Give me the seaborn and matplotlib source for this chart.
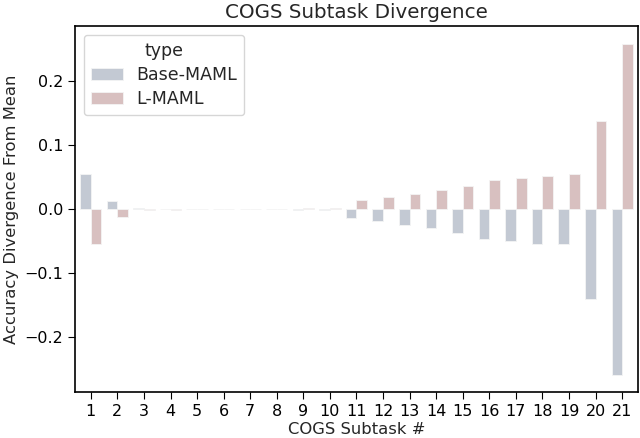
import pandas as pd
import numpy as np
import matplotlib
matplotlib.use('Agg')
import matplotlib.pyplot as plt
import seaborn as sns

subtasks = [str(i) for i in range(1, 22)]
lmaml = [-0.054, -0.013, -0.002, -0.001, 0.0, 0.0, 0.0, 0.0, 0.002, 0.002,
         0.014, 0.019, 0.024, 0.030, 0.036, 0.046, 0.049, 0.052, 0.054, 0.138, 0.258]
base = [0.054, 0.012, 0.002, 0.0005, 0.0, 0.0, 0.0, 0.0, -0.002, -0.002,
        -0.014, -0.019, -0.024, -0.030, -0.037, -0.047, -0.050, -0.054, -0.055, -0.140, -0.259]

df = pd.DataFrame({
    'subtask': subtasks * 2,
    'divergence': base + lmaml,
    'type': ['Base-MAML'] * len(subtasks) + ['L-MAML'] * len(subtasks),
})

sns.set_style('ticks')
plt.rcParams['xtick.labelsize'] = 11.5
plt.rcParams['ytick.labelsize'] = 11.5
plt.rcParams['axes.labelsize'] = 11.8
plt.rcParams['xtick.major.size'] = 5
plt.rcParams['ytick.major.size'] = 5
plt.rcParams['axes.edgecolor'] = 'black'
plt.rcParams['xtick.color'] = 'black'
plt.rcParams['ytick.color'] = 'black'

plt.figure(figsize=(6.4, 4.38), dpi=100)
ax = sns.barplot(data=df, x='subtask', y='divergence', hue='type',
                 palette=['#c0c8d6', '#dcbcbc'], edgecolor='#f4f4f4', linewidth=0.6)
ax.set_ylim(-0.285, 0.285)
ax.set_xlim(-0.6, 20.6)
ax.set_yticks([-0.2, -0.1, 0.0, 0.1, 0.2])
ax.set_title('COGS Subtask Divergence', fontsize=14.3)
ax.set_xlabel('COGS Subtask #', labelpad=2)
ax.set_ylabel('Accuracy Divergence From Mean')
sns.move_legend(ax, 'upper left', title='type', fontsize=12.5, title_fontsize=12.5,
                handlelength=1.85, labelspacing=0.35)
for s in ax.spines.values():
    s.set_linewidth(1.2)
plt.subplots_adjust(left=0.117, right=0.997, top=0.94, bottom=0.105)
plt.savefig('out.png', dpi=100)
